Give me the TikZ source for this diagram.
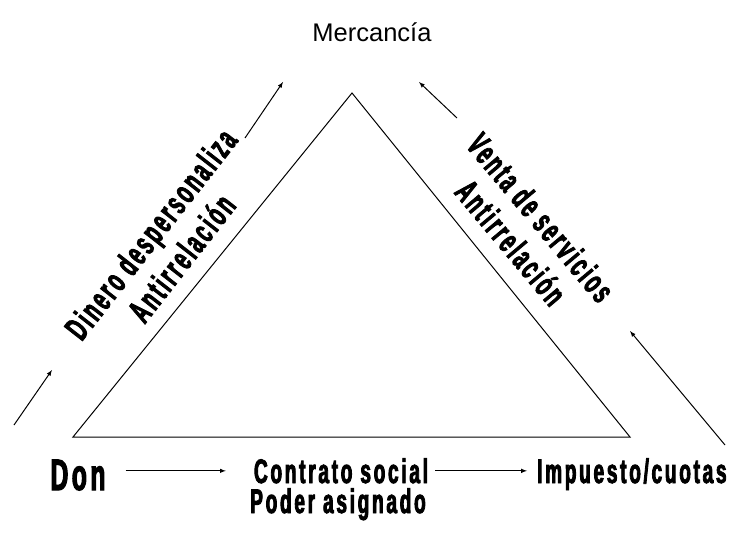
\documentclass[tikz,border=0pt]{standalone}
\usepackage{fontspec}
\usepackage{tikz}
\usetikzlibrary{positioning}
\setmainfont{Liberation Sans}
\newfontfamily\gruesa[FakeStretch=0.56,LetterSpace=8,FakeBold=2.5]{Liberation Sans}

\begin{document}
\begin{tikzpicture}[x=1pt,y=-1pt]
% Estilos
\tikzstyle{flecha}=[->,>=latex,line width=1pt]
\tikzstyle{lado}=[line width=1pt]
\tikzstyle{rotulo}=[font=\gruesa\bfseries\fontsize{34}{39}\selectfont,align=center,inner sep=0pt]
\tikzstyle{titulo}=[font=\fontsize{25.5}{28}\selectfont,inner sep=0pt]
% Dimensiones
\def\Base{437}
\def\Fila{483}
\useasboundingbox (0,0) rectangle (744,537);
% Triangulo
\coordinate (A) at (352,93);
\coordinate (B) at (73,\Base);
\coordinate (C) at (630,\Base);
\draw[lado] (A)--(B)--(C)--cycle;
% Nodos
\node[titulo] (merc) at (372,32) {Mercancía};
\node[rotulo,rotate=52] (izq) at (166,246) {Dinero despersonaliza\\Antirrelación};
\node[rotulo,rotate=-50] (der) at (526,230) {Venta de servicios\\Antirrelación};
\node[rotulo,anchor=base,font=\gruesa\bfseries\fontsize{44}{46}\selectfont] (don) at (78,490) {Don};
\node[rotulo,anchor=base] (contrato) at (341,\Fila) {Contrato social};
\node[rotulo,anchor=base] (poder) at (338,513) {Poder asignado};
\node[rotulo,anchor=base west] (impuesto) at (537,\Fila) {Impuesto/cuotas};
% Flechas libres
\coordinate (i1) at (14,425);
\coordinate (i2) at (52,370);
\coordinate (i3) at (245,138);
\coordinate (i4) at (283,82);
\coordinate (d1) at (457,118);
\coordinate (d2) at (419,82);
\coordinate (d3) at (725,445);
\coordinate (d4) at (630,331);
% Arcos
\draw[flecha] (i1)--(i2);
\draw[flecha] (i3)--(i4);
\draw[flecha] (d1)--(d2);
\draw[flecha] (d3)--(d4);
\draw[flecha,shorten <=20pt,shorten >=28pt] (don.east |- contrato)--(contrato.west);
\draw[flecha,shorten <=7pt,shorten >=10pt] (contrato.east)--(contrato.east -| impuesto.west);
\end{tikzpicture}
\end{document}
